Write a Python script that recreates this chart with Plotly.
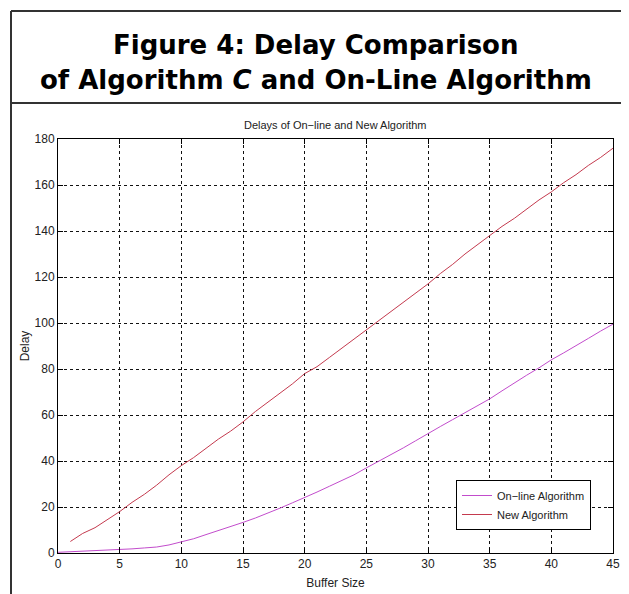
import plotly.graph_objects as go

buffer_online = list(range(0, 46))
delay_online = [0.3, 0.5, 0.7, 0.9, 1.1, 1.5, 1.8, 2.2, 2.6, 3.5, 4.8, 6.2, 8.0, 9.7, 11.5,
                13.3, 15.2, 17.2, 19.5, 21.8, 24.0, 26.5, 29.0, 31.5, 34.0, 37.0, 39.8, 42.7,
                45.7, 48.8, 52.0, 55.0, 58.0, 61.0, 64.0, 67.0, 70.5, 74.0, 77.3, 80.5, 84.0,
                87.0, 90.0, 93.3, 96.5, 99.5]

buffer_new = list(range(1, 46))
delay_new = [5, 8.5, 11, 14.5, 18, 22, 25.5, 29.5, 34, 38, 41.5, 45.5, 49.5, 53, 57,
             61.5, 65.5, 69.5, 73.5, 78, 81, 85, 89, 93, 97, 101, 105, 109, 113, 117,
             121.5, 125.5, 130, 134, 138, 142, 145.5, 149.5, 153.5, 157, 161, 164.5, 168.5,
             172, 176]

x_ticks = [0, 5, 10, 15, 20, 25, 30, 35, 40, 45]
y_ticks = [0, 20, 40, 60, 80, 100, 120, 140, 160, 180]

# the page body has an 8px margin, so the figure starts at screen (8, 8)
OFF = 8
W, H = 629 - OFF, 594 - OFF
L, R, T, B = 58 - OFF, 16, 139 - OFF, 41
pw, ph = W - L - R, H - T - B


def px(x):
    # screen pixel -> paper fraction
    return (x - OFF - L) / pw


def py(y):
    return (H - B - (y - OFF)) / ph


fig = go.Figure()
fig.add_trace(go.Scatter(x=buffer_online, y=delay_online, mode="lines",
                         name="On\u2212line Algorithm",
                         line=dict(color="#c24ccc", width=1)))
fig.add_trace(go.Scatter(x=buffer_new, y=delay_new, mode="lines",
                         name="New Algorithm",
                         line=dict(color="#c43a4e", width=1)))

axis_common = dict(showline=True, linecolor="black", linewidth=1, mirror="ticks",
                   ticks="inside", ticklen=5, tickcolor="black",
                   showgrid=True, gridcolor="#111", gridwidth=1, griddash="dot",
                   zeroline=False, automargin=False,
                   tickfont=dict(family="Liberation Sans, Arial", size=12, color="#222"))

fig.update_xaxes(range=[0, 45], tickvals=x_ticks, **axis_common,
                 title=dict(text="Buffer Size", standoff=8,
                            font=dict(family="Liberation Sans, Arial", size=12, color="#222")))
fig.update_yaxes(range=[0, 180], tickvals=y_ticks, **axis_common,
                 title=dict(text="Delay", standoff=2,
                            font=dict(family="Liberation Sans, Arial", size=12, color="#222")))

shapes = [
    dict(type="line", xref="paper", yref="paper", x0=px(11), x1=px(640), y0=py(11), y1=py(11),
         line=dict(color="#333", width=2)),
    dict(type="line", xref="paper", yref="paper", x0=px(11), x1=px(640), y0=py(103), y1=py(103),
         line=dict(color="#333", width=2)),
    dict(type="line", xref="paper", yref="paper", x0=px(11), x1=px(11), y0=py(11), y1=py(600),
         line=dict(color="#333", width=2)),
]

annotations = [
    dict(text="<b>Figure 4: Delay Comparison</b>", xref="paper", yref="paper",
         x=px(316), y=py(45), showarrow=False, xanchor="center", yanchor="middle",
         font=dict(family="DejaVu Sans", size=26, color="black")),
    dict(text="<b>of Algorithm <i>C</i> and On-Line Algorithm</b>", xref="paper", yref="paper",
         x=px(316), y=py(80), showarrow=False, xanchor="center", yanchor="middle",
         font=dict(family="DejaVu Sans", size=26, color="black")),
    dict(text="Delays of On\u2212line and New Algorithm", xref="paper", yref="paper",
         x=0.5, y=py(125), showarrow=False, xanchor="center", yanchor="middle",
         font=dict(family="Liberation Sans, Arial", size=11, color="#222")),
]

fig.update_layout(
    width=W, height=H,
    margin=dict(l=L, r=R, t=T, b=B, autoexpand=False),
    paper_bgcolor="white", plot_bgcolor="white",
    showlegend=True,
    legend=dict(x=px(591), y=py(530), xanchor="right", yanchor="bottom",
                bgcolor="white", bordercolor="black", borderwidth=1,
                itemwidth=30, tracegroupgap=0,
                font=dict(family="Liberation Sans, Arial", size=11, color="#222")),
    shapes=shapes,
    annotations=annotations,
)

fig.write_html("out.html")
